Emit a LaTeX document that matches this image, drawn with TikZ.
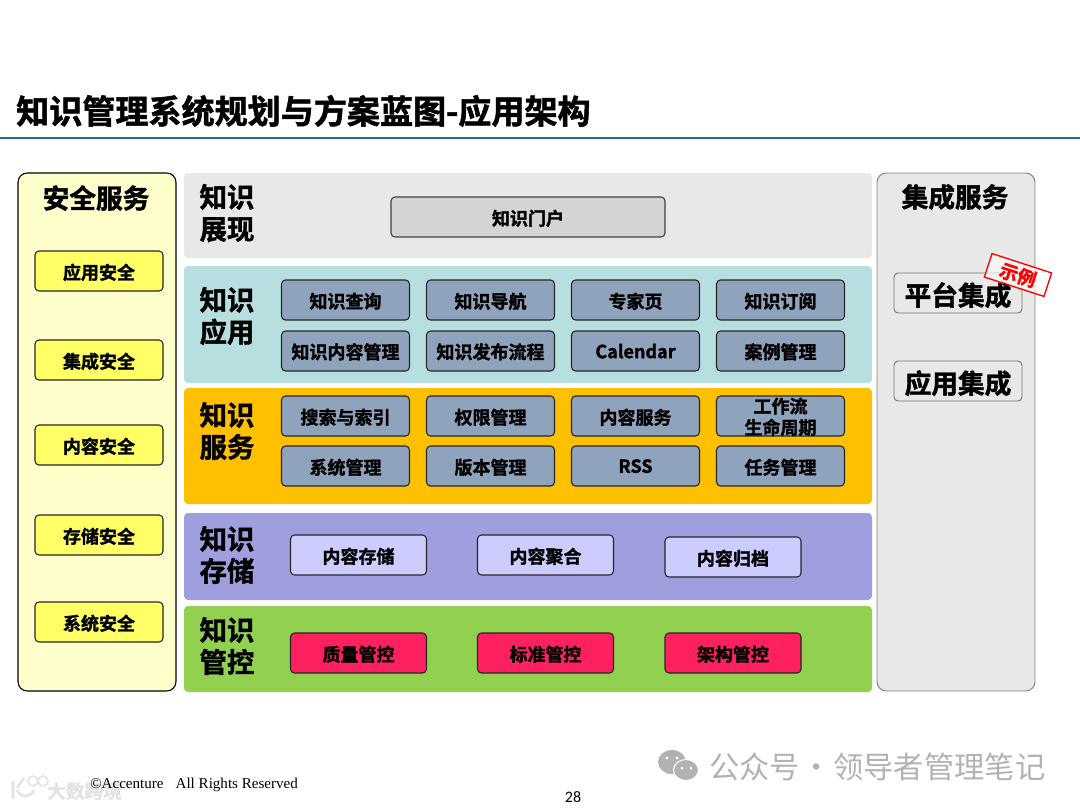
\documentclass[tikz,border=0pt]{standalone}
\usepackage{fontspec}
\usepackage{xcolor}
\setmainfont{Noto Sans CJK SC}[BoldFont={* Bold},BoldFeatures={FakeBold=1.6}]
\newfontfamily\serifpart{Liberation Serif}
\newfontfamily\sanspart{Carlito}
\usetikzlibrary{positioning}
\definecolor{secPanel}{RGB}{255,255,204}
\definecolor{secBox}{RGB}{255,255,102}
\definecolor{showBand}{RGB}{232,232,232}
\definecolor{portalBox}{RGB}{212,212,212}
\definecolor{appBand}{RGB}{183,223,224}
\definecolor{svcBand}{RGB}{255,192,0}
\definecolor{storeBand}{RGB}{159,159,224}
\definecolor{ctrlBand}{RGB}{146,208,80}
\definecolor{slateBox}{RGB}{143,163,188}
\definecolor{lilacBox}{RGB}{204,204,255}
\definecolor{roseBox}{RGB}{255,32,96}
\definecolor{ruleTeal}{RGB}{40,110,140}
\definecolor{markGrey}{RGB}{178,178,178}
\tikzset{
  panel/.style={rectangle, rounded corners=7pt, anchor=north west, inner sep=0pt, outer sep=0pt,
                minimum width=118.5pt, minimum height=388.5pt},
  band/.style={rectangle, rounded corners=3pt, anchor=north west, fill=#1, inner sep=0pt, outer sep=0pt,
               minimum width=516pt},
  bandlabel/.style={font=\fontsize{20.5}{24}\selectfont\bfseries, align=center, inner sep=0pt, anchor=center},
  paneltitle/.style={font=\fontsize{20}{24}\selectfont\bfseries, inner sep=0pt},
  cell/.style={rectangle, rounded corners=3pt, draw=black!85, fill=#1, line width=0.8pt,
               minimum width=96pt, minimum height=30pt, inner sep=0pt, outer sep=0pt,
               font=\fontsize{13.5}{16}\selectfont\bfseries, align=center, text depth=0pt},
  widecell/.style={cell=#1, minimum width=102pt},
  bigcell/.style={rectangle, rounded corners=3pt, draw=black!55, fill=showBand, line width=0.7pt,
                  minimum width=96pt, minimum height=30pt, inner sep=0pt, outer sep=0pt,
                  font=\fontsize{20}{24}\selectfont\bfseries},
}
\begin{document}
\begin{tikzpicture}[x=0.75pt, y=-0.75pt]
    \useasboundingbox (0,0) rectangle (1080,810);

    % Title
    \node[anchor=west, inner sep=0pt, font=\fontsize{24.8}{28}\selectfont\bfseries] (title) at (16,111)
          {知识管理系统规划与方案蓝图-应用架构};
    \coordinate (ruleL) at (0,138);
    \coordinate (ruleR) at (1080,138);
    \draw[ruleTeal, line width=0.8pt] (ruleL) -- (ruleR);

    % Security column
    \node[panel, draw=black, line width=0.8pt, fill=secPanel] (secpanel) at (18,173) {};
    \node[paneltitle] (sectitle) at (96,198) {安全服务};
    \node[cell=secBox] (secapp) at (99,271) {\raisebox{-0.7pt}{应用安全}};
    \node[cell=secBox] (secint) at (99,360) {\raisebox{-0.7pt}{集成安全}};
    \node[cell=secBox] (seccon) at (99,445) {\raisebox{-0.7pt}{内容安全}};
    \node[cell=secBox] (secsto) at (99,535) {\raisebox{-0.7pt}{存储安全}};
    \node[cell=secBox] (secsys) at (99,622) {\raisebox{-0.7pt}{系统安全}};

    % Layers
    \node[band=showBand, minimum height=63.75pt] (showlayer) at (184,173) {};
    \node[band=appBand, minimum height=87.75pt] (applayer) at (184,266) {};
    \node[band=svcBand, minimum height=87pt] (svclayer) at (184,388) {};
    \node[band=storeBand, minimum height=65.25pt] (storelayer) at (184,513) {};
    \node[band=ctrlBand, minimum height=64.5pt] (ctrllayer) at (184,606) {};

    \node[bandlabel] (showlabel) at (227,213) {知识\\展现};
    \node[bandlabel] (applabel) at (227,316) {知识\\应用};
    \node[bandlabel] (svclabel) at (227,431) {知识\\服务};
    \node[bandlabel] (storelabel) at (227,555) {知识\\存储};
    \node[bandlabel] (ctrllabel) at (227,646) {知识\\管控};

    % Portal
    \node[cell=portalBox, draw=black!75, minimum width=205.5pt] (portal) at (528,217) {\raisebox{-0.7pt}{知识门户}};

    % Application cells
    \node[cell=slateBox] (query) at (345.5,300) {\raisebox{-0.7pt}{知识查询}};
    \node[cell=slateBox, right=12.75pt of query] (nav) {\raisebox{-0.7pt}{知识导航}};
    \node[cell=slateBox, right=12.75pt of nav] (expert) {\raisebox{-0.7pt}{专家页}};
    \node[cell=slateBox, right=12.75pt of expert] (subs) {\raisebox{-0.7pt}{知识订阅}};
    \node[cell=slateBox, below=8.25pt of query] (content) {知识内容管理};
    \node[cell=slateBox, below=8.25pt of nav] (publish) {知识发布流程};
    \node[cell=slateBox, below=8.25pt of expert] (calendar) {Calendar};
    \node[cell=slateBox, below=8.25pt of subs] (cases) {案例管理};

    % Service cells
    \node[cell=slateBox] (search) at (345.5,416) {\raisebox{-0.7pt}{搜索与索引}};
    \node[cell=slateBox, right=12.75pt of search] (rights) {\raisebox{-0.7pt}{权限管理}};
    \node[cell=slateBox, right=12.75pt of rights] (consvc) {\raisebox{-0.7pt}{内容服务}};
    \node[cell=slateBox, right=12.75pt of consvc] (flow) {工作流\\生命周期};
    \node[cell=slateBox, below=7.5pt of search] (sysmgr) {\raisebox{-0.7pt}{系统管理}};
    \node[cell=slateBox, below=7.5pt of rights] (version) {\raisebox{-0.7pt}{版本管理}};
    \node[cell=slateBox, below=7.5pt of consvc] (rss) {RSS};
    \node[cell=slateBox, below=7.5pt of flow] (tasks) {\raisebox{-0.7pt}{任务管理}};

    % Storage and control cells
    \node[widecell=lilacBox] (store) at (358.5,555) {\raisebox{-0.7pt}{内容存储}};
    \node[widecell=lilacBox] (merge) at (545.5,555) {\raisebox{-0.7pt}{内容聚合}};
    \node[widecell=lilacBox] (archive) at (733,557) {\raisebox{-0.7pt}{内容归档}};
    \node[widecell=roseBox] (quality) at (358.5,653) {\raisebox{-0.7pt}{质量管控}};
    \node[widecell=roseBox] (standard) at (545.5,653) {\raisebox{-0.7pt}{标准管控}};
    \node[widecell=roseBox] (arch) at (733,653) {\raisebox{-0.7pt}{架构管控}};

    % Integration column
    \node[panel, draw=black!50, line width=0.7pt, fill=showBand] (intpanel) at (877,173) {};
    \node[paneltitle] (inttitle) at (955,197) {集成服务};
    \node[bigcell] (platform) at (958,293) {\raisebox{-9.3pt}[0pt][0pt]{平台集成}};
    \node[bigcell] (appint) at (958,381) {\raisebox{-9.3pt}[0pt][0pt]{应用集成}};

    % Stamp
    \node[rectangle, draw=red, line width=1pt, fill=white, fill opacity=0.6, text opacity=1, rotate=-18,
          minimum width=47pt, minimum height=18.5pt, inner sep=0pt, text=red,
          font=\fontsize{14}{15}\selectfont\bfseries] (stamp) at (1018,275) {示例};

    % Footer
    \node[anchor=west, inner sep=0pt, text=black!11, font=\fontsize{14}{16}\selectfont\bfseries] (brand) at (47,791) {大数跨境};
    \draw[black!11, line width=2pt] (13,781) -- (13,799) (24,778) -- (17,788) (17,790) arc (160:20:9);
    \draw[black!11, line width=1.2pt] (33,781) circle (5) (43,781) circle (5);
    \node[anchor=west, inner sep=0pt, font=\fontsize{11.3}{12}\selectfont\serifpart] (copyright) at (90,785)
          {©Accenture\hspace{0.8em}All Rights Reserved};
    \node[inner sep=0pt, font=\fontsize{12}{13}\selectfont\sanspart] (pageno) at (573,797) {28};
    \node[anchor=west, inner sep=0pt, text=markGrey, font=\fontsize{22.7}{24}\selectfont] (account) at (709,767)
          {公众号\makebox[25pt][c]{·}领导者管理笔记};

    % WeChat mark
    \fill[markGrey] (672,762) ellipse (14 and 12);
    \fill[markGrey, draw=white, line width=0.8pt] (686,770) ellipse (12.5 and 10.5);
    \fill[white] (667,758) circle (1.7) (677,758) circle (1.7) (682,768) circle (1.5) (691,768) circle (1.5);
\end{tikzpicture}
\end{document}
